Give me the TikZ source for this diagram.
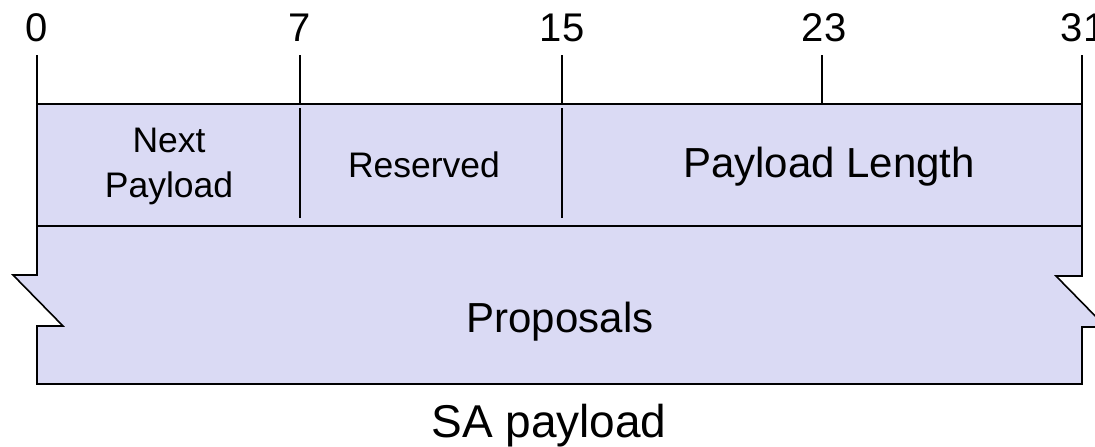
\documentclass[tikz,border=0pt]{standalone}
\usepackage{fontspec}
\setmainfont{Liberation Sans}
\definecolor{fieldfill}{RGB}{218,218,244}
\begin{document}
\begin{tikzpicture}[x=1pt,y=-1pt,
  outline/.style={draw=black,line width=1.6pt,fill=fieldfill,line join=miter},
  tick/.style={draw=black,line width=1.4pt},
  divider/.style={draw=black,line width=2pt},
  bitnum/.style={anchor=base,inner sep=0pt,font=\fontsize{40}{48}\selectfont},
  small/.style={anchor=base,inner sep=0pt,align=center,font=\fontsize{35.5}{45}\selectfont},
  large/.style={anchor=base,inner sep=0pt,font=\fontsize{42}{50}\selectfont},
  caption/.style={anchor=base,inner sep=0pt,font=\fontsize{46}{55}\selectfont}]
\useasboundingbox (0,0) rectangle (1095,447);
\clip (0,0) rectangle (1095,447);
% lower (Proposals) field with break marks
\draw[outline] (37,226) -- (37,275) -- (13,275) -- (63,326) -- (37,326) -- (37,384)
  -- (1082,384) -- (1082,327) -- (1106,327) -- (1056,276) -- (1082,276) -- (1082,226) -- cycle;
% upper header row
\draw[outline] (37,104) rectangle (1082,226);
% bit ticks
\foreach \x/\n in {37/b0,300/b7,562/b15,822/b23,1082/b31}{
  \coordinate (\n t) at (\x,55);
  \coordinate (\n b) at (\x,104);
  \draw[tick] (\n t) -- (\n b);
}
% field dividers
\coordinate (d1t) at (300,108); \coordinate (d1b) at (300,218);
\coordinate (d2t) at (562,108); \coordinate (d2b) at (562,218);
\draw[divider] (d1t) -- (d1b);
\draw[divider] (d2t) -- (d2b);
% bit numbers
\node[bitnum] (n0) at (37,41) {0};
\node[bitnum] (n7) at (300,41) {7};
\node[bitnum] (n15) at (562,41) {15};
\node[bitnum] (n23) at (824,41) {23};
\node[bitnum] (n31) at (1083,41) {31};
% field labels
\node[small] (np) at (169,197) {Next\\Payload};
\node[small] (res) at (424,177) {Reserved};
\node[large] (pl) at (829,177) {Payload Length};
\node[large] (prop) at (560,332) {Proposals};
\node[caption] (cap) at (549,437) {SA payload};
\end{tikzpicture}
\end{document}
